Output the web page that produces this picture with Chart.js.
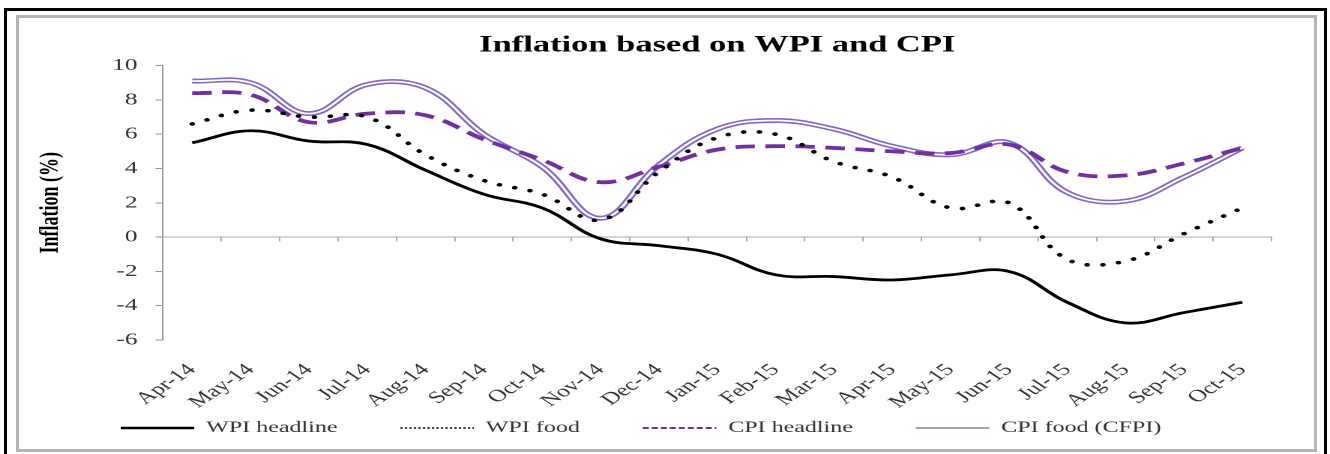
<!DOCTYPE html>
<html>
<head>
<meta charset="utf-8">
<title>Inflation based on WPI and CPI</title>
<script src="https://cdn.jsdelivr.net/npm/chart.js@4.4.1/dist/chart.umd.min.js"></script>
<style>
    html, body { margin: 0; padding: 0; background: #fff; overflow: hidden; }
    #stage { position: relative; width: 1330px; height: 454px; }
    /* the source picture is stretched sideways, so the chart is drawn narrow and widened */
    #wrap { position: absolute; left: 0; top: 0; width: 887px; height: 454px; transform: scaleX(1.4994); transform-origin: 0 0; }
    .frame-outer { position: absolute; left: 4px; top: 8px; width: 1317px; height: 460px; border: 3px solid #000; pointer-events: none; }
    .frame-inner { position: absolute; left: 16px; top: 15px; width: 1295px; height: 431px; border: 3px solid #b4b4b4; pointer-events: none; }
</style>
</head>
<body>
<div id="stage">
    <div id="wrap"><canvas id="chart"></canvas></div>
    <div class="frame-outer"></div>
    <div class="frame-inner"></div>
</div>
<script>
const months = ['Apr-14', 'May-14', 'Jun-14', 'Jul-14', 'Aug-14', 'Sep-14', 'Oct-14', 'Nov-14', 'Dec-14', 'Jan-15',
    'Feb-15', 'Mar-15', 'Apr-15', 'May-15', 'Jun-15', 'Jul-15', 'Aug-15', 'Sep-15', 'Oct-15'];

const wpiHeadline = [5.5, 6.2, 5.6, 5.4, 3.9, 2.5, 1.7, -0.1, -0.5, -1.0, -2.2, -2.3, -2.5, -2.2, -2.0, -3.8, -5.0, -4.4, -3.8];
const wpiFood     = [6.6, 7.4, 7.0, 7.0, 4.8, 3.3, 2.5, 1.0, 3.8, 5.8, 6.0, 4.4, 3.5, 1.7, 2.0, -1.3, -1.4, 0.2, 1.7];
const cpiHeadline = [8.4, 8.3, 6.7, 7.2, 7.1, 5.7, 4.5, 3.2, 4.1, 5.1, 5.3, 5.2, 5.0, 4.9, 5.4, 3.8, 3.6, 4.3, 5.2];
const cfpi        = [9.1, 9.0, 7.2, 8.9, 8.7, 6.0, 4.1, 1.1, 4.2, 6.3, 6.8, 6.3, 5.3, 4.8, 5.5, 2.6, 2.1, 3.5, 5.2];

const yTicks = { min: -6, max: 10, step: 2 };
const serif = 'Liberation Serif';
const legendGap = '\u2003\u2003';

// how each series looks in the legend (thin samples, like the original)
const legendLook = {
    0: { lineWidth: 2.6 },
    1: { lineWidth: 1.4, lineDash: [1.5, 1.5], lineCap: 'butt' },
    2: { lineWidth: 2, lineDash: [4, 2], lineCap: 'butt' },
    3: { lineWidth: 1.5, strokeStyle: '#8a7fb0' }
};

const ctx = document.getElementById('chart').getContext('2d');

new Chart(ctx, {
    type: 'line',
    data: {
        labels: months,
        datasets: [
            { label: 'WPI headline', data: wpiHeadline, borderColor: '#000', borderWidth: 2.8, order: 0 },
            { label: 'WPI food', data: wpiFood, borderColor: '#000', borderWidth: 3.6, borderDash: [0.1, 10.5], borderCapStyle: 'round', order: 1 },
            { label: 'CPI headline', data: cpiHeadline, borderColor: '#7030a0', borderWidth: 3.8, borderDash: [13, 7], order: 2 },
            { label: 'CPI food (CFPI)', data: cfpi, borderColor: '#8466c6', borderWidth: 5, order: 4 },
            // white core of the double line
            { label: '', data: cfpi, borderColor: '#ffffff', borderWidth: 1.8, order: 3 }
        ]
    },
    options: {
        responsive: true,
        maintainAspectRatio: false,
        animation: false,
        devicePixelRatio: 2,
        layout: { padding: { left: 7, right: 39, top: 22, bottom: 8 } },
        elements: {
            point: { radius: 0 },
            line: { tension: 0.4, fill: false }
        },
        plugins: {
            tooltip: { enabled: false },
            title: {
                display: true,
                text: 'Inflation based on WPI and CPI',
                fullSize: false,
                color: '#000',
                font: { family: serif, size: 23, weight: 'bold' },
                padding: { top: 10, bottom: 6 }
            },
            legend: {
                position: 'bottom',
                labels: {
                    usePointStyle: true,
                    pointStyle: 'line',
                    pointStyleWidth: 49,
                    padding: 10,
                    color: '#333',
                    font: { family: serif, size: 16 },
                    generateLabels(chart) {
                        const items = Chart.defaults.plugins.legend.labels.generateLabels(chart);
                        return items.filter(it => it.datasetIndex !== 4).map(it => {
                            Object.assign(it, legendLook[it.datasetIndex]);
                            if (it.datasetIndex < 3) it.text = it.text + legendGap;
                            return it;
                        });
                    }
                }
            }
        },
        scales: {
            x: {
                type: 'category',
                position: 'bottom',
                offset: true,
                grid: { display: false, drawTicks: false },
                border: { display: false },
                ticks: {
                    autoSkip: false, minRotation: 45, maxRotation: 45, padding: 20,
                    color: '#333', font: { family: serif, size: 17 }
                },
                afterFit(scale) { scale.height = 70; }
            },
            // the axis line sits at zero, the labels stay at the bottom
            x2: {
                type: 'category',
                labels: months,
                position: { y: 0 },
                offset: true,
                grid: { offset: true, drawOnChartArea: false, drawTicks: true, tickLength: 4, color: '#aaa' },
                border: { display: true, color: '#aaa' },
                ticks: { display: false }
            },
            y: {
                min: yTicks.min,
                max: yTicks.max,
                ticks: { stepSize: yTicks.step, padding: 12, color: '#333', font: { family: serif, size: 17 } },
                grid: { drawOnChartArea: false, drawTicks: true, tickLength: 5, color: '#999' },
                border: { display: true, color: '#999' },
                title: {
                    display: true,
                    text: 'Inflation (%)',
                    color: '#000',
                    font: { family: serif, size: 18, weight: 'bold' },
                    padding: { top: 16, bottom: 0 }
                },
                afterFit(scale) { scale.width = 101.7; }
            }
        }
    }
});
</script>
</body>
</html>
